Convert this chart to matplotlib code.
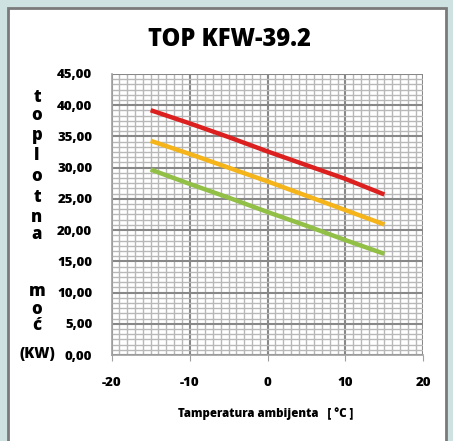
import matplotlib
matplotlib.use("Agg")
import matplotlib.pyplot as plt
from matplotlib.patches import Rectangle
from matplotlib.ticker import MultipleLocator, FuncFormatter
import numpy as np

plt.rcParams["axes.unicode_minus"] = False

# ---- data ----
temperature = [-15, -10, -5, 0, 5, 10, 15]
red_series = [39.2, 37.1, 34.9, 32.6, 30.4, 28.2, 25.7]
orange_series = [34.3, 32.2, 30.0, 27.8, 25.5, 23.2, 20.9]
green_series = [29.7, 27.4, 25.2, 22.9, 20.7, 18.4, 16.2]
x_ticks = [-20, -10, 0, 10, 20]
y_ticks = [0, 5, 10, 15, 20, 25, 30, 35, 40, 45]
title = "TOP KFW-39.2"
x_label = "Tamperatura ambijenta   [ °C ]"
y_label_parts = ["t", "o", "p", "l", "o", "t", "n", "a", "m", "o", "ć", "(KW)"]

W, H = 453, 441
fig = plt.figure(figsize=(W / 100, H / 100), dpi=100)
fig.patch.set_facecolor("#cfe2e2")

# white panel with gray border
fig.patches.append(Rectangle((8 / W, -0.05), (446 - 8) / W, (H - 8) / H + 0.05,
                             transform=fig.transFigure, facecolor="white",
                             edgecolor="#7a7a7a", linewidth=2, zorder=-10))

ax = fig.add_axes([111.7 / W, (H - 355) / H, 311.6 / W, 281 / H])
ax.set_zorder(1)
ax.set_facecolor("white")

ax.plot(temperature, red_series, color="#dc1f1f", lw=3.2, solid_capstyle="butt", zorder=5)
ax.plot(temperature, orange_series, color="#f4b41a", lw=3.2, solid_capstyle="butt", zorder=5)
ax.plot(temperature, green_series, color="#92c046", lw=3.2, solid_capstyle="butt", zorder=5)

ax.set_xlim(-20, 20)
ax.set_ylim(0, 45)
ax.set_xticks(x_ticks)
ax.set_yticks(y_ticks)
ax.xaxis.set_minor_locator(MultipleLocator(1))
ax.yaxis.set_minor_locator(MultipleLocator(5 / 6))
ax.grid(which="minor", color="#b8b8b8", lw=1.0, zorder=1)
ax.grid(which="major", color="#888888", lw=1.5, zorder=2)
ax.set_axisbelow(True)

ax.yaxis.set_major_formatter(FuncFormatter(lambda v, p: f"{v:.2f}".replace(".", ",")))
for s in ["top", "right"]:
    ax.spines[s].set_visible(False)
ax.spines["left"].set_color("#a0a0a0")
ax.spines["bottom"].set_color("#a0a0a0")
ax.spines["left"].set_linewidth(1.2)
ax.spines["bottom"].set_linewidth(1.2)
ax.tick_params(axis="x", which="major", length=4, color="#a0a0a0", pad=12,
               labelsize=9.5)
ax.tick_params(axis="y", which="major", length=0, pad=14, labelsize=9.5)
ax.tick_params(which="minor", length=0)
for lab in ax.get_xticklabels() + ax.get_yticklabels():
    lab.set_fontweight(800)
    lab.set_family("Open Sans")

fig.text(229 / W, 1 - 40 / H, title, ha="center", va="center",
         fontsize=17, fontweight=800, family="Open Sans")
fig.text(266 / W, 1 - 414 / H, x_label, ha="center", va="center",
         fontsize=8.3, fontweight=800, family="Open Sans")

y_positions = [97, 116, 136, 156, 176, 197, 217, 235, 292, 309, 326, 354]
for txt, yp in zip(y_label_parts, y_positions):
    fig.text(37 / W, 1 - yp / H, txt, ha="center", va="center",
             fontsize=12 if len(txt) == 1 else 10.5, fontweight=800, family="Open Sans")

fig.savefig("out.png", dpi=100, facecolor=fig.get_facecolor())
